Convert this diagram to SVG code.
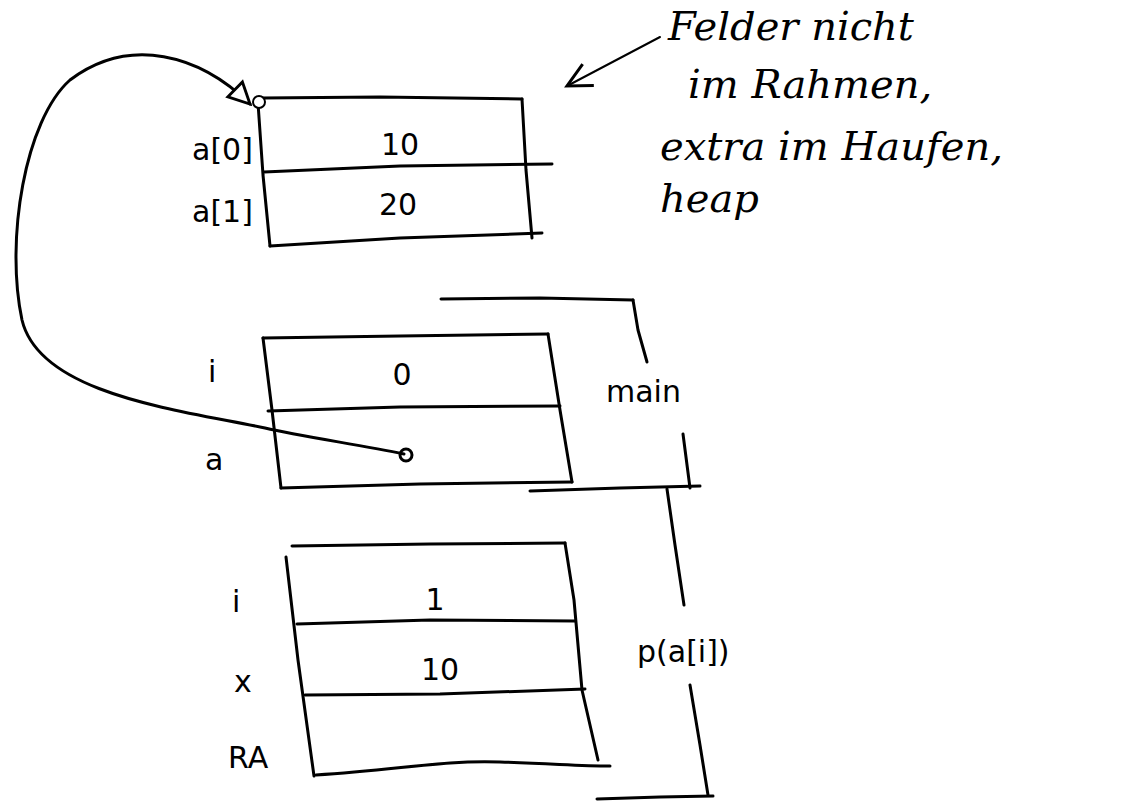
<svg xmlns="http://www.w3.org/2000/svg" width="1138" height="809" viewBox="0 0 1138 809">
  <style>
    .ln { fill: none; stroke: #000; stroke-width: 3; stroke-linecap: round; stroke-linejoin: round; }
    .thin { fill: none; stroke: #000; stroke-width: 2; stroke-linecap: round; }
    .lbl { font-family: "DejaVu Sans", "Liberation Sans", sans-serif; font-size: 30px; fill: #000; }
    .val { font-family: "DejaVu Sans", "Liberation Sans", sans-serif; font-size: 30px; fill: #000; text-anchor: middle; }
    .note { font-family: "DejaVu Serif", "Liberation Serif", serif; font-style: italic; font-size: 40px; fill: #000; }
  </style>
  <defs>
    <marker id="openHead" viewBox="0 0 20 20" refX="18" refY="10" markerWidth="26" markerHeight="26" markerUnits="userSpaceOnUse" orient="auto">
      <path d="M2,2 L18,10 L2,18 Z" fill="#fff" stroke="#000" stroke-width="2.2"/>
    </marker>
    <marker id="noteHead" viewBox="0 0 20 20" refX="18" refY="10" markerWidth="30" markerHeight="30" markerUnits="userSpaceOnUse" orient="auto">
      <path d="M2,2 L18,10 L2,18" fill="none" stroke="#000" stroke-width="2"/>
    </marker>
  </defs>

  <!-- heap: the array a -->
  <g id="heap-array">
    <path class="ln" d="M262,98 L380,97 L522,99"/>
    <path class="ln" d="M258,103 L263,175 L270,246"/>
    <path class="ln" d="M522,99 L526,170 L532,238"/>
    <path class="ln" d="M264,172 L400,166 L552,164"/>
    <path class="ln" d="M270,246 L400,238 L542,233"/>
    <circle cx="259" cy="102" r="6" fill="#fff" stroke="#000" stroke-width="2"/>
    <text class="lbl" x="192" y="160">a[0]</text>
    <text class="lbl" x="192" y="222">a[1]</text>
    <text class="val" x="400" y="155">10</text>
    <text class="val" x="398" y="215">20</text>
  </g>

  <!-- stack frame of main -->
  <g id="frame-main">
    <path class="ln" d="M263,338 L400,336 L548,334"/>
    <path class="ln" d="M263,338 L272,410 L281,488"/>
    <path class="ln" d="M548,334 L560,410 L572,482"/>
    <path class="ln" d="M268,411 L400,407 L560,406"/>
    <path class="ln" d="M281,488 L420,484 L572,482"/>
    <circle cx="406" cy="455" r="6" fill="#fff" stroke="#000" stroke-width="3"/>
    <text class="lbl" x="208" y="382">i</text>
    <text class="lbl" x="205" y="470">a</text>
    <text class="val" x="402" y="385">0</text>
  </g>

  <!-- stack frame of p(a[i]) -->
  <g id="frame-p">
    <path class="ln" d="M292,546 L430,544 L565,543"/>
    <path class="ln" d="M286,557 L298,660 L314,776"/>
    <path class="ln" d="M565,543 L574,600 L582,690 L598,760"/>
    <path class="ln" d="M297,624 L430,620 L575,621"/>
    <path class="ln" d="M305,695 L440,694 L585,689"/>
    <path class="ln" d="M316,775 C400,770 440,760 500,762 S580,766 610,766"/>
    <text class="lbl" x="232" y="612">i</text>
    <text class="lbl" x="234" y="692" font-size="36">x</text>
    <text class="lbl" x="228" y="768">RA</text>
    <text class="val" x="435" y="610">1</text>
    <text class="val" x="440" y="680">10</text>
  </g>

  <!-- frame brackets and their names -->
  <g id="bracket-main">
    <path class="ln" d="M441,299 L540,298 L633,300"/>
    <path class="ln" d="M633,300 L638,330 L647,362"/>
    <path class="ln" d="M683,434 L690,488"/>
    <path class="ln" d="M530,491 L620,488 L700,486"/>
    <text class="lbl" x="606" y="402">main</text>
  </g>
  <g id="bracket-p">
    <path class="ln" d="M667,489 L675,545 L684,605"/>
    <path class="ln" d="M690,685 L700,745 L708,795"/>
    <path class="ln" d="M597,799 L660,797 L713,796"/>
    <text class="lbl" x="637" y="662">p(a[i])</text>
  </g>

  <!-- note about the heap -->
  <g id="note">
    <text class="note" x="668" y="40">Felder nicht</text>
    <text class="note" x="688" y="98">im Rahmen,</text>
    <text class="note" x="660" y="160">extra im Haufen,</text>
    <text class="note" x="660" y="212">heap</text>
  </g>

  <!-- connectors -->
  <g id="connectors">
    <path class="ln" d="M404,454 C360,445 300,436 265,428 C180,410 40,395 22,320 C5,240 25,120 70,80 C130,35 200,55 250,104" marker-end="url(#openHead)"/>
    <path class="thin" d="M660,37 L567,86" marker-end="url(#noteHead)"/>
  </g>
</svg>
